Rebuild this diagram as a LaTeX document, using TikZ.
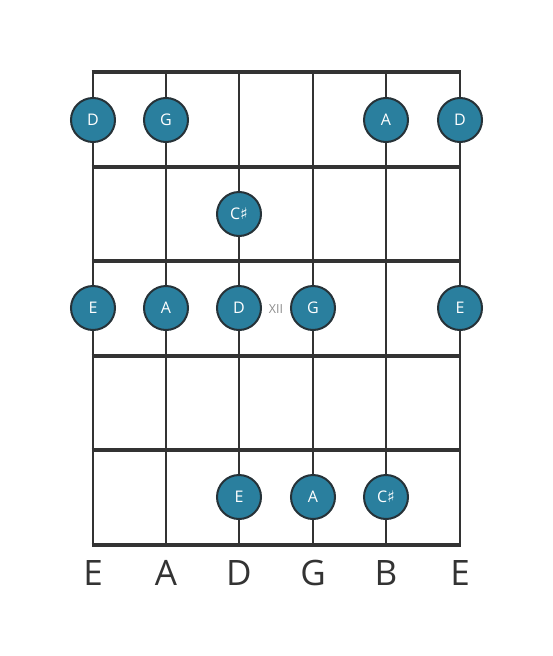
\documentclass[tikz,border=0pt]{standalone}
\usepackage{fontspec}
\setmainfont{Open Sans}
\newfontfamily\symfont{DejaVu Sans}
\definecolor{linec}{HTML}{333333}
\definecolor{notefill}{HTML}{2A7F9E}
\definecolor{notedraw}{HTML}{263238}
\definecolor{markc}{HTML}{8E8E8E}
\newcommand{\shp}{{\symfont\char"266F}}
\tikzset{
  stringline/.style={draw=linec, line width=2.9pt},
  fretline/.style={draw=linec, line width=4.8pt},
  notedot/.style={circle, minimum size=44pt, inner sep=0pt, fill=notefill, draw=notedraw, line width=2pt, text=white, font=\fontsize{16}{16}\selectfont},
  strname/.style={text=linec, font=\fontsize{35}{35}\selectfont, inner sep=0pt},
  marktext/.style={text=markc, font=\fontsize{12.5}{12.5}\selectfont, inner sep=0pt}
}
\begin{document}
\begin{tikzpicture}[x=1pt,y=-1pt]
\useasboundingbox (0,0) rectangle (553,656);
% strings
\foreach \sx [count=\i] in {93,166,239,313,386,460} {
  \coordinate (s\i top) at (\sx,72);
  \coordinate (s\i bot) at (\sx,545);
  \draw[stringline] (s\i top) -- (s\i bot);
}
% frets
\foreach \fy [count=\j] in {72,167,261,356,450,545} {
  \coordinate (f\j l) at (93,\fy);
  \coordinate (f\j r) at (460,\fy);
  \draw[fretline] ([xshift=-1.45pt]f\j l) -- ([xshift=1.45pt]f\j r);
}
% notes row 1
\node[notedot] (n11) at (93,120) {D};
\node[notedot] (n12) at (166,120) {G};
\node[notedot] (n15) at (386,120) {A};
\node[notedot] (n16) at (460,120) {D};
% row 2
\node[notedot] (n23) at (239,214) {C\shp};
% row 3
\node[notedot] (n31) at (93,308) {E};
\node[notedot] (n32) at (166,308) {A};
\node[notedot] (n33) at (239,308) {D};
\node[notedot] (n34) at (313,308) {G};
\node[notedot] (n36) at (460,308) {E};
\node[marktext] (xii) at (276,309) {XII};
% row 5
\node[notedot] (n53) at (239,497) {E};
\node[notedot] (n54) at (313,497) {A};
\node[notedot] (n55) at (386,497) {C\shp};
% string names
\foreach \sx/\nm [count=\i] in {93/E,166/A,239/D,313/G,386/B,460/E} {
  \node[strname] (name\i) at (\sx,573) {\nm};
}
\end{tikzpicture}
\end{document}
